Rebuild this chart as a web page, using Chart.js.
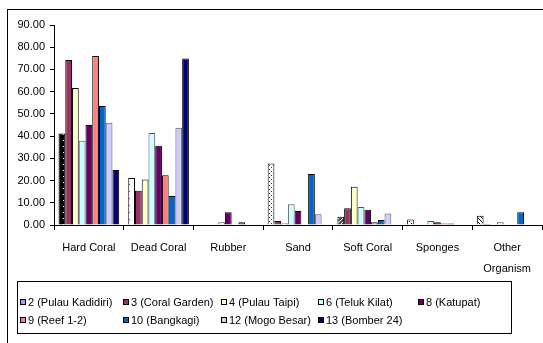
<!DOCTYPE html>
<html lang="en">
<head>
    <meta charset="UTF-8">
    <title>Benthic Cover per Site</title>
    <script src="https://cdn.jsdelivr.net/npm/chart.js"></script>
    <style>
        body {
            margin: 0;
            background: #fff;
        }
    </style>
</head>
<body>
    <canvas id="coverChart" width="543" height="343"></canvas>

    <script>
        // categories on the x axis
        const categories = ['Hard Coral', 'Dead Coral', 'Rubber', 'Sand', 'Soft Coral', 'Sponges', ['Other', 'Organism']];

        // site names (legend)
        const siteNames = ['2 (Pulau Kadidiri)', '3 (Coral Garden)', '4 (Pulau Taipi)', '6 (Teluk Kilat)', '8 (Katupat)',
                           '9 (Reef 1-2)', '10 (Bangkagi)', '12 (Mogo Besar)', '13 (Bomber 24)'];

        // % cover per category, one array per site
        const kadidiri    = [41.2, 21.1, 0.0, 27.7, 3.7, 2.5, 4.2];
        const coralGarden = [74.2, 15.4, 0.0, 1.8, 7.5, 0.0, 0.5];
        const taipi       = [61.6, 20.5, 0.0, 0.7, 17.2, 0.0, 0.0];
        const telukKilat  = [37.9, 41.4, 1.2, 9.3, 8.1, 1.8, 1.2];
        const katupat     = [45.0, 35.7, 5.7, 6.3, 6.9, 1.2, 0.0];
        const reef12      = [76.0, 22.4, 0.0, 0.0, 1.2, 0.7, 0.0];
        const bangkagi    = [53.5, 13.1, 1.2, 23.0, 2.2, 0.7, 5.7];
        const mogoBesar   = [46.0, 43.8, 0.0, 4.8, 5.2, 0.0, 0.0];
        const bomber24    = [24.7, 74.9, 0.0, 0.0, 0.0, 0.0, 0.0];

        // y axis ticks
        const yTicks = [0, 10, 20, 30, 40, 50, 60, 70, 80, 90];

        const seriesValues = [kadidiri, coralGarden, taipi, telukKilat, katupat, reef12, bangkagi, mogoBesar, bomber24];
        const colors = ['#9999FF', '#993366', '#FFFFCC', '#CCFFFF', '#660066', '#FF8080', '#0066CC', '#CCCCFF', '#000080'];
        const borders = ['#000', '#000', '#000', '#555', '#000', '#000', '#000', '#555', '#000'];

        const fontFamily = 'Arial, "Liberation Sans", sans-serif';

        // small bitmap fills, like the excel auto patterns of the first site
        function makePattern(bg, fg, dots, size) {
            const c = document.createElement('canvas');
            c.width = size;
            c.height = size;
            const g = c.getContext('2d');
            g.fillStyle = bg;
            g.fillRect(0, 0, size, size);
            g.fillStyle = fg;
            dots.forEach(d => g.fillRect(d[0], d[1], 1, 1));
            return g.createPattern(c, 'repeat');
        }

        const ctx = document.getElementById('coverChart').getContext('2d');

        const kadidiriFills = [
            makePattern('#000', '#fff', [[3, 2]], 6),
            makePattern('#fff', '#555', [[3, 2]], 7),
            makePattern('#fff', '#000', [[1, 1]], 3),
            makePattern('#fff', '#333', [[1, 1], [3, 3]], 4),
            makePattern('#555', '#fff', [[0, 0], [2, 2], [1, 3], [3, 1]], 4),
            makePattern('#fff', '#000', [[1, 1], [3, 3]], 4),
            makePattern('#fff', '#000', [[0, 0], [1, 1], [2, 2], [3, 3]], 4)
        ];

        const datasets = seriesValues.map((vals, i) => ({
            label: siteNames[i],
            data: vals,
            backgroundColor: i === 0 ? kadidiriFills : colors[i],
            borderColor: borders[i],
            borderWidth: 1,
            borderSkipped: 'start',
            swatch: colors[i]
        }));

        const frameAndLegend = {
            id: 'frameAndLegend',
            afterDraw(chart) {
                const c = chart.ctx;
                c.save();
                c.strokeStyle = '#000';
                c.lineWidth = 1;
                c.strokeRect(7.5, 9.5, 600, 400);

                // legend box, items in a fixed grid
                c.strokeRect(17.5, 281.5, 494, 52);
                const colX = [20, 123, 221, 318, 418];
                const rowY = [302, 320];
                c.font = '11px ' + fontFamily;
                c.textBaseline = 'middle';
                chart.data.datasets.forEach((ds, i) => {
                    const x = colX[i % 5];
                    const y = rowY[Math.floor(i / 5)];
                    c.fillStyle = ds.swatch;
                    c.fillRect(x, y - 3, 6, 6);
                    c.strokeStyle = '#000';
                    c.strokeRect(x + 0.5, y - 3 + 0.5, 5, 5);
                    c.fillStyle = '#000';
                    c.fillText(ds.label, x + 8, y + 0.5);
                });
                c.restore();
            }
        };

        new Chart(ctx, {
            type: 'bar',
            data: {
                labels: categories,
                datasets: datasets
            },
            options: {
                responsive: false,
                animation: false,
                devicePixelRatio: 1,
                categoryPercentage: 0.87,
                barPercentage: 1.0,
                layout: {
                    padding: { top: 25, right: 1, left: 0, bottom: 0 }
                },
                plugins: {
                    legend: { display: false },
                    tooltip: { enabled: false }
                },
                scales: {
                    x: {
                        grid: {
                            drawOnChartArea: false,
                            drawTicks: true,
                            tickLength: 5,
                            color: '#000'
                        },
                        border: { color: '#000' },
                        ticks: {
                            color: '#000',
                            padding: 8,
                            maxRotation: 0,
                            autoSkip: false,
                            font: { family: fontFamily, size: 11, lineHeight: 1.9 }
                        },
                        afterFit(scale) {
                            scale.height = 118;
                        }
                    },
                    y: {
                        min: 0,
                        max: 90,
                        afterBuildTicks(scale) {
                            scale.ticks = yTicks.map(v => ({ value: v }));
                        },
                        grid: {
                            drawOnChartArea: false,
                            drawTicks: true,
                            tickLength: 4,
                            color: '#000'
                        },
                        border: { color: '#000' },
                        ticks: {
                            color: '#000',
                            padding: 5,
                            font: { family: fontFamily, size: 11 },
                            callback: v => v.toFixed(2)
                        },
                        afterFit(scale) {
                            scale.width = 54;
                        }
                    }
                }
            },
            plugins: [frameAndLegend]
        });
    </script>
</body>
</html>
